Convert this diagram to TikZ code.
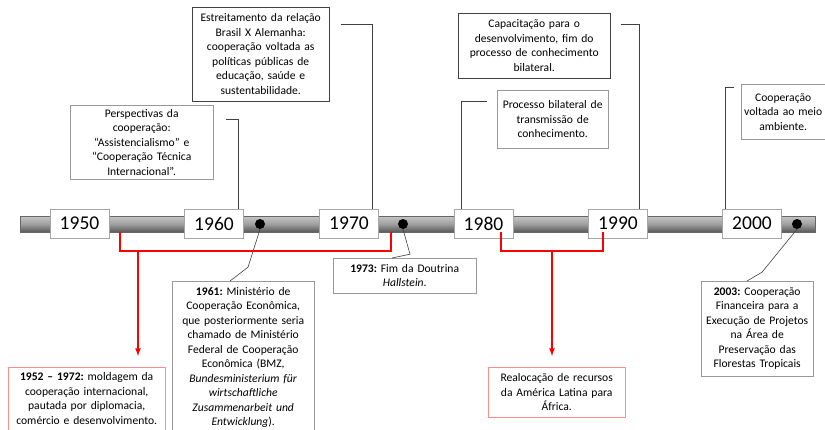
\documentclass[tikz,border=0pt]{standalone}
\usepackage{fontspec}
\setmainfont{Carlito}
\usetikzlibrary{arrows,shapes}
\frenchspacing

\begin{document}
\begin{tikzpicture}[
    x=1pt, y=-1pt,
    >=latex,
    font=\fontsize{11.6}{14.5}\selectfont,
    bar/.style = {draw=black!60, top color=gray!45, bottom color=black!65, middle color=gray!75, minimum width=795pt, minimum height=16pt, inner sep=0pt},
    year/.style = {draw=gray!70, fill=white, minimum width=59pt, minimum height=29pt, inner sep=0pt, font=\fontsize{19.5}{24}\selectfont},
    note/.style = {draw=gray!80, fill=white, align=center, inner sep=2pt, anchor=north west},
    rednote/.style = {note, draw=red!45},
    leader/.style = {draw=black!75, line width=0.6pt},
    redline/.style = {draw=red, line width=1.6pt},
    dot/.style = {circle, fill=black, inner sep=0pt, minimum size=10pt}
  ]
  \clip (0,0) rectangle (825,429);

  % linha do tempo
  \node[bar] (bar) at (417.5,224) {};
  \node[year] (y1950) at (79.5,223.5) {1950};
  \node[year] (y1960) at (214,223.5) {1960};
  \node[year] (y1970) at (349,223.5) {1970};
  \node[year] (y1980) at (483.5,223.5) {1980};
  \node[year] (y1990) at (618,223.5) {1990};
  \node[year] (y2000) at (752,223.5) {2000};

  \node[dot] (d1961) at (260,224) {};
  \node[dot] (d1973) at (403,224) {};
  \node[dot] (d2003) at (797,224) {};

  % caixas de cima
  \node[note, text width=139pt, minimum height=74pt] (persp) at (70,105)
    {Perspectivas da\\cooperação:\\“Assistencialismo” e\\“Cooperação Técnica\\Internacional”.};
  \node[note, draw=black!75, text width=133pt, minimum height=94pt] (estr) at (192,7)
    {Estreitamento da relação\\Brasil X Alemanha:\\cooperação voltada as\\políticas públicas de\\educação, saúde e\\sustentabilidade.};
  \node[note, draw=black!75, text width=148pt, minimum height=65pt] (capac) at (458,13)
    {Capacitação para o\\desenvolvimento, fim do\\processo de conhecimento\\bilateral.};
  \node[note, text width=107pt, minimum height=58pt] (proc) at (497,90)
    {Processo bilateral de\\transmissão de\\conhecimento.};
  \node[note, text width=80pt, minimum height=55pt] (meio) at (741,84)
    {Cooperação\\voltada ao meio\\ambiente.};

  \draw[leader] ([xshift=13pt,yshift=-14pt]persp.north east) -| ([xshift=24pt]y1960.north);
  \draw[leader] ([xshift=12pt,yshift=-17pt]estr.north east) -| ([xshift=23pt]y1970.north);
  \draw[leader] ([xshift=11pt,yshift=-11pt]capac.north east) -| ([xshift=21pt]y1990.north);
  \draw[leader] ([xshift=-10pt,yshift=-11pt]proc.north west) -| ([xshift=-22.5pt]y1980.north);
  \draw[leader] ([xshift=-7pt,yshift=-3pt]meio.north west) -| ([xshift=-27pt]y2000.north);

  % caixas de baixo
  \node[note, text width=138pt, inner ysep=6pt] (bmz) at (172,281)
    {\textbf{1961:} Ministério de\\Cooperação Econômica,\\que posteriormente seria\\chamado de Ministério\\Federal de Cooperação\\Econômica (BMZ,\\\textit{Bundesministerium für}\\\textit{wirtschaftliche}\\\textit{Zusammenarbeit und}\\\textit{Entwicklung}).};
  \node[note, text width=139pt, minimum height=35pt] (hall) at (333,258)
    {\textbf{1973:} Fim da Doutrina\\\textit{Hallstein}.};
  \node[note, text width=108pt, minimum height=95pt] (flor) at (701,281)
    {\textbf{2003:} Cooperação\\Financeira para a\\Execução de Projetos\\na Área de\\Preservação das\\Florestas Tropicais};

  \draw[leader] (d1961.south) -- ++(-12,38) -- (bmz.north -| 230,0);
  \draw[leader] (d1973.south) -- ++(7,25) -- (hall.north -| 392,0);
  \draw[leader] (d2003.south) -- ++(-35,43) -- (flor.north -| 747,0);

  % periodos em vermelho
  \node[rednote, text width=153pt, inner ysep=5.5pt] (phase1) at (8,367)
    {\textbf{1952 – 1972:} moldagem da\\cooperação internacional,\\pautada por diplomacia,\\comércio e desenvolvimento.};
  \node[rednote, text width=133pt, minimum height=50pt] (phase2) at (488,367)
    {Realocação de recursos\\da América Latina para\\África.};

  \coordinate (r1a) at (120,232);
  \coordinate (r1b) at (391,232);
  \coordinate (r1c) at (138,251);
  \coordinate (r2a) at (501,232);
  \coordinate (r2b) at (603,232);
  \coordinate (r2c) at (552,251);
  \draw[redline] (r1a) -- ++(0,19) -| (r1b);
  \draw[redline] (r2a) -- ++(0,19) -| (r2b);
  \draw[redline, ->, shorten >=11pt] (r1c) -- (r1c |- phase1.north);
  \draw[redline, ->, shorten >=11pt] (r2c) -- (r2c |- phase2.north);

\end{tikzpicture}
\end{document}
